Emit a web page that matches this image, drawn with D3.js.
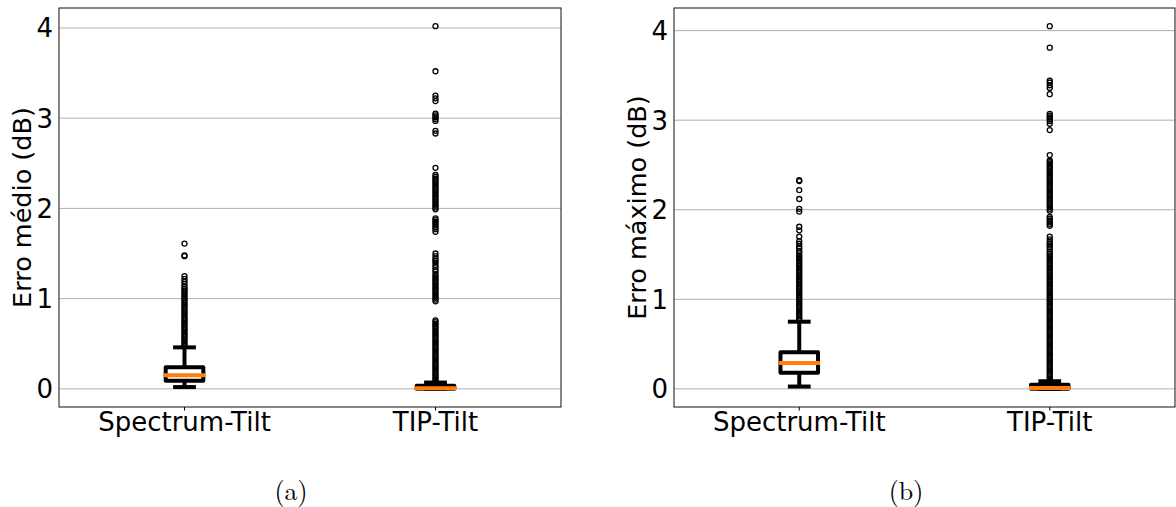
<!DOCTYPE html>
<html>
<head>
<meta charset="utf-8">
<script src="https://cdn.jsdelivr.net/npm/d3@7/dist/d3.min.js"></script>
<style>
  html, body { margin: 0; padding: 0; background: #fff; }
  svg { display: block; }
</style>
</head>
<body>
<svg id="chart" width="1176" height="507"></svg>
<script>
// ---------- DATA ----------
const categories = ["Spectrum-Tilt", "TIP-Tilt"];
const yTicks = [0, 1, 2, 3, 4];
const panelCaptions = ["(a)", "(b)"];
const yLabels = ["Erro médio (dB)", "Erro máximo (dB)"];

// Panel (a): Erro médio — box statistics per category
const meanWhiskerLow  = [0.02, 0.0];
const meanQ1          = [0.09, 0.0];
const meanMedian      = [0.15, 0.007];
const meanQ3          = [0.24, 0.035];
const meanWhiskerHigh = [0.46, 0.07];
const meanOutliersSpectrum = [1.61, 1.48, 1.47, 1.25, 1.22, 1.19, 1.16, 1.13, 1.11, 1.09, 1.07, 1.05, 1.03, 1.01, 0.99, 0.97, 0.95, 0.93, 0.91, 0.89, 0.87, 0.85, 0.83, 0.81, 0.79, 0.77, 0.75, 0.73, 0.71, 0.69, 0.67, 0.65, 0.63, 0.61, 0.59, 0.57, 0.55, 0.53, 0.51, 0.49, 0.47];
const meanOutliersTIP = [4.02, 3.52, 3.25, 3.22, 3.19, 3.05, 3.03, 3.01, 2.99, 2.97, 2.86, 2.83, 2.45, 2.37, 2.35, 2.33, 2.31, 2.29, 2.27, 2.25, 2.23, 2.21, 2.19, 2.17, 2.15, 2.13, 2.11, 2.09, 2.07, 2.05, 2.03, 2.01, 1.99, 1.89, 1.87, 1.85, 1.83, 1.81, 1.79, 1.77, 1.74, 1.50, 1.47, 1.44, 1.42, 1.40, 1.37, 1.35, 1.32, 1.30, 1.27, 1.25, 1.23, 1.21, 1.19, 1.17, 1.15, 1.13, 1.11, 1.09, 1.07, 1.05, 1.03, 1.01, 0.99, 0.97, 0.76, 0.74, 0.72, 0.70, 0.68, 0.66, 0.64, 0.62, 0.60, 0.58, 0.56, 0.54, 0.52, 0.50, 0.48, 0.46, 0.44, 0.42, 0.40, 0.38, 0.36, 0.34, 0.32, 0.30, 0.28, 0.26, 0.24, 0.22, 0.20, 0.18, 0.16, 0.14, 0.12, 0.10, 0.08];

// Panel (b): Erro máximo — box statistics per category
const maxWhiskerLow  = [0.026, 0.0];
const maxQ1          = [0.18, 0.0];
const maxMedian      = [0.29, 0.01];
const maxQ3          = [0.41, 0.045];
const maxWhiskerHigh = [0.75, 0.085];
const maxOutliersSpectrum = [2.33, 2.32, 2.22, 2.12, 2.01, 1.98, 1.81, 1.77, 1.70, 1.65, 1.62, 1.59, 1.57, 1.54, 1.52, 1.49, 1.47, 1.45, 1.43, 1.41, 1.39, 1.37, 1.35, 1.33, 1.31, 1.29, 1.27, 1.25, 1.23, 1.21, 1.19, 1.17, 1.15, 1.13, 1.11, 1.09, 1.07, 1.05, 1.03, 1.01, 0.99, 0.97, 0.95, 0.93, 0.91, 0.89, 0.87, 0.85, 0.83, 0.81, 0.79, 0.77];
const maxOutliersTIP = [4.05, 3.81, 3.44, 3.42, 3.39, 3.36, 3.29, 3.07, 3.05, 3.03, 3.01, 2.99, 2.96, 2.89, 2.61, 2.55, 2.53, 2.51, 2.49, 2.47, 2.45, 2.43, 2.41, 2.39, 2.37, 2.35, 2.33, 2.31, 2.29, 2.27, 2.25, 2.23, 2.21, 2.19, 2.17, 2.15, 2.13, 2.11, 2.09, 2.07, 2.05, 2.03, 2.01, 1.99, 1.92, 1.90, 1.88, 1.86, 1.84, 1.82, 1.70, 1.67, 1.64, 1.62, 1.60, 1.58, 1.56, 1.53, 1.51, 1.49, 1.47, 1.45, 1.43, 1.41, 1.39, 1.37, 1.35, 1.33, 1.31, 1.29, 1.27, 1.25, 1.23, 1.21, 1.19, 1.17, 1.15, 1.13, 1.11, 1.09, 1.07, 1.05, 1.03, 1.01, 0.99, 0.97, 0.95, 0.93, 0.91, 0.89, 0.87, 0.85, 0.83, 0.81, 0.79, 0.77, 0.75, 0.73, 0.71, 0.69, 0.67, 0.65, 0.63, 0.61, 0.59, 0.57, 0.55, 0.53, 0.51, 0.49, 0.47, 0.45, 0.43, 0.41, 0.39, 0.37, 0.35, 0.33, 0.31, 0.29, 0.27, 0.25, 0.23, 0.21, 0.19, 0.17, 0.15, 0.13, 0.11, 0.09];

// ---------- BUILD ----------
function buildStats(lo, q1, med, q3, hi, outs) {
  return categories.map((c, i) => ({
    cat: c, pos: i + 1, lo: lo[i], q1: q1[i], med: med[i], q3: q3[i], hi: hi[i], outliers: outs[i]
  }));
}
const panels = [
  { left: 59, right: 561, top: 8, bottom: 407, captionX: 291, ylabelX: 31,
    ylabel: yLabels[0], caption: panelCaptions[0],
    stats: buildStats(meanWhiskerLow, meanQ1, meanMedian, meanQ3, meanWhiskerHigh, [meanOutliersSpectrum, meanOutliersTIP]) },
  { left: 674, right: 1175, top: 8, bottom: 407, captionX: 906, ylabelX: 646,
    ylabel: yLabels[1], caption: panelCaptions[1],
    stats: buildStats(maxWhiskerLow, maxQ1, maxMedian, maxQ3, maxWhiskerHigh, [maxOutliersSpectrum, maxOutliersTIP]) }
];

const svg = d3.select("#chart");
const sansFont = "'DejaVu Sans', sans-serif";
const BOX_W = 0.15;      // box width in data units (matplotlib default)
const LW = 4;

panels.forEach(p => {
  // data-driven y limits, 5% margin like matplotlib
  const allVals = p.stats.flatMap(s => [s.lo, s.hi, ...s.outliers]);
  const mn = d3.min(allVals), mx = d3.max(allVals);
  const pad = (mx - mn) * 0.05;
  const y = d3.scaleLinear().domain([mn - pad, mx + pad]).range([p.bottom, p.top]);
  const x = d3.scaleLinear().domain([0.5, 2.5]).range([p.left, p.right]);

  const g = svg.append("g");

  // grid
  g.append("g").selectAll("line").data(yTicks).join("line")
    .attr("x1", p.left).attr("x2", p.right)
    .attr("y1", d => y(d)).attr("y2", d => y(d))
    .attr("stroke", "#b0b0b0").attr("stroke-width", 1);

  const bw = x(1 + BOX_W / 2) - x(1);      // half box width px
  const cw = x(1 + BOX_W / 4) - x(1);      // half cap width px

  const boxes = g.append("g").selectAll("g").data(p.stats).join("g");

  // whiskers
  boxes.append("line").attr("x1", d => x(d.pos)).attr("x2", d => x(d.pos))
    .attr("y1", d => y(d.q3)).attr("y2", d => y(d.hi))
    .attr("stroke", "#000").attr("stroke-width", LW);
  boxes.append("line").attr("x1", d => x(d.pos)).attr("x2", d => x(d.pos))
    .attr("y1", d => y(d.q1)).attr("y2", d => y(d.lo))
    .attr("stroke", "#000").attr("stroke-width", LW);
  // caps
  ["hi", "lo"].forEach(k => {
    boxes.append("line")
      .attr("x1", d => x(d.pos) - cw).attr("x2", d => x(d.pos) + cw)
      .attr("y1", d => y(d[k])).attr("y2", d => y(d[k]))
      .attr("stroke", "#000").attr("stroke-width", LW).attr("stroke-linecap", "square");
  });
  // box
  boxes.append("rect")
    .attr("x", d => x(d.pos) - bw).attr("width", 2 * bw)
    .attr("y", d => y(d.q3)).attr("height", d => Math.max(0, y(d.q1) - y(d.q3)))
    .attr("fill", "none").attr("stroke", "#000").attr("stroke-width", LW)
    .attr("stroke-linejoin", "round");
  // median
  boxes.append("line")
    .attr("x1", d => x(d.pos) - bw).attr("x2", d => x(d.pos) + bw)
    .attr("y1", d => y(d.med)).attr("y2", d => y(d.med))
    .attr("stroke", "#ff7f0e").attr("stroke-width", LW).attr("stroke-linecap", "square");
  // fliers
  boxes.each(function(d) {
    d3.select(this).append("g").selectAll("circle").data(d.outliers).join("circle")
      .attr("cx", x(d.pos)).attr("cy", v => y(v)).attr("r", 2.5)
      .attr("fill", "none").attr("stroke", "#000").attr("stroke-width", 1.3);
  });

  // frame
  g.append("rect").attr("x", p.left).attr("y", p.top)
    .attr("width", p.right - p.left).attr("height", p.bottom - p.top)
    .attr("fill", "none").attr("stroke", "#111").attr("stroke-width", 1);

  // y tick labels
  g.append("g").selectAll("text").data(yTicks).join("text")
    .attr("x", p.left - 6).attr("y", d => y(d)).attr("dy", "0.36em")
    .attr("text-anchor", "end").attr("font-family", sansFont).attr("font-size", 26)
    .attr("fill", "#000").text(d => d);

  // x ticks + labels
  g.append("g").selectAll("line").data(categories).join("line")
    .attr("x1", (d, i) => x(i + 1)).attr("x2", (d, i) => x(i + 1))
    .attr("y1", p.bottom).attr("y2", p.bottom + 3.5)
    .attr("stroke", "#000").attr("stroke-width", 1);
  g.append("g").selectAll("text").data(categories).join("text")
    .attr("x", (d, i) => x(i + 1)).attr("y", 431)
    .attr("text-anchor", "middle").attr("font-family", sansFont).attr("font-size", 26)
    .attr("fill", "#000").text(d => d);

  // y label
  const cy = (p.top + p.bottom) / 2;
  g.append("text")
    .attr("transform", `translate(${p.ylabelX},${cy}) rotate(-90)`)
    .attr("text-anchor", "middle").attr("font-family", sansFont).attr("font-size", 25.5)
    .attr("fill", "#000").text(p.ylabel);

  // caption
  g.append("text").attr("x", p.captionX).attr("y", 500)
    .attr("text-anchor", "middle")
    .attr("font-family", "'Latin Modern Roman', 'CMU Serif', 'DejaVu Serif', serif")
    .attr("font-size", 26).attr("fill", "#000").text(p.caption);
});
</script>
</body>
</html>
